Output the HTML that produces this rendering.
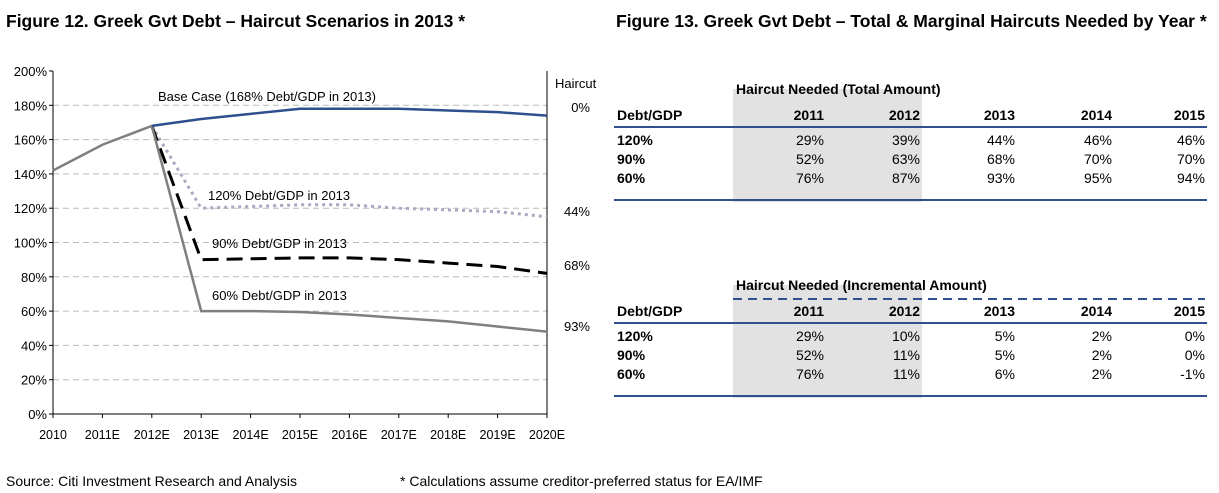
<!DOCTYPE html>
<html><head><meta charset="utf-8"><style>
html,body{margin:0;padding:0;background:#fff;width:1219px;height:493px;overflow:hidden}
svg{display:block;font-family:"Liberation Sans Narrow","Liberation Sans",Arial,sans-serif}
</style></head><body>
<svg id="svg" width="1219" height="493" viewBox="0 0 1219 493" xmlns="http://www.w3.org/2000/svg">
<text x="6" y="27" font-size="17.5" font-weight="bold">Figure 12. Greek Gvt Debt – Haircut Scenarios in 2013 *</text>
<text x="616" y="27" font-size="17.5" font-weight="bold">Figure 13. Greek Gvt Debt – Total &amp; Marginal Haircuts Needed by Year *</text>
<g id="chart"></g>
<g id="tables"></g>
<text x="6" y="486" font-size="14">Source: Citi Investment Research and Analysis</text>
<text x="400" y="486" font-size="14">* Calculations assume creditor-preferred status for EA/IMF</text>
</svg>
<script>
const categories=["2010","2011E","2012E","2013E","2014E","2015E","2016E","2017E","2018E","2019E","2020E"];
const baseCase=[142,157,168,172,175,178,178,178,177,176,174];
const s120=[null,null,168,120,121,122,122,120,119,118,115];
const s90=[null,null,168,90,90.5,91,91,90,88,86,82];
const s60=[null,null,168,60,60,59.5,58,56,54,51,48];
const yTicks=[0,20,40,60,80,100,120,140,160,180,200];
const haircutLabels=["0%","44%","68%","93%"];
const tableYears=["2011","2012","2013","2014","2015"];
const rowLabels=["120%","90%","60%"];
const totalVals=[["29%","39%","44%","46%","46%"],["52%","63%","68%","70%","70%"],["76%","87%","93%","95%","94%"]];
const incVals=[["29%","10%","5%","2%","0%"],["52%","11%","5%","2%","0%"],["76%","11%","6%","2%","-1%"]];

const NS="http://www.w3.org/2000/svg";
function mk(parent,tag,attrs,txt){const e=document.createElementNS(NS,tag);for(const k in attrs)e.setAttribute(k,attrs[k]);if(txt!==undefined)e.textContent=txt;parent.appendChild(e);return e;}
const X0=53,X1=547,Y0=414,Y1=71;
const xs=i=>X0+i*(X1-X0)/(categories.length-1);
const ys=v=>Y0-(v/200)*(Y0-Y1);
const chart=document.getElementById('chart');
yTicks.forEach(t=>{
  if(t>0&&t<200){const l=mk(chart,'line',{x1:X0,x2:X1,y1:ys(t),y2:ys(t),stroke:'#bbb','stroke-dasharray':'6,4','stroke-width':1});
  
  }
  const tx=mk(chart,'text',{x:X0-6,y:ys(t)+5,'text-anchor':'end','font-size':13},t+'%');
  
  
  mk(chart,'line',{x1:X0-4,x2:X0,y1:ys(t),y2:ys(t),stroke:'#000'});
});
const ax=mk(chart,'path',{d:`M${X0},${Y1}V${Y0}H${X1}V${Y1}`,fill:'none',stroke:'#000','stroke-width':1});


categories.forEach((c,i)=>{
  mk(chart,'line',{x1:xs(i),x2:xs(i),y1:Y0,y2:Y0+4,stroke:'#000'});
  const t=mk(chart,'text',{x:xs(i),y:Y0+25,'text-anchor':'middle','font-size':12.5},c);
  
  
});
function line(arr,style,name){
  const pts=[];arr.forEach((v,i)=>{if(v!==null)pts.push(xs(i)+','+ys(v));});
  const p=mk(chart,'polyline',Object.assign({points:pts.join(' '),fill:'none'},style));
  
  
}
line(s120,{stroke:'#a9a9c2','stroke-width':3,'stroke-dasharray':'3,4'},'series-120');
line(s90,{stroke:'#000','stroke-width':3,'stroke-dasharray':'16,8'},'series-90');
line(s60,{stroke:'#7f7f7f','stroke-width':2.5},'series-60');
line(baseCase.slice(0,3).concat(Array(8).fill(null)),{stroke:'#7f7f7f','stroke-width':2.5},'series-history');
line([null,null].concat(baseCase.slice(2)),{stroke:'#2f4f8f','stroke-width':2.5},'series-base-case');
[["Base Case (168% Debt/GDP in 2013)",158,101,'base-label'],["120% Debt/GDP in 2013",208,200,'label-120'],["90% Debt/GDP in 2013",212,248,'label-90'],["60% Debt/GDP in 2013",212,300,'label-60']].forEach(a=>{
  const t=mk(chart,'text',{x:a[1],y:a[2],'font-size':13},a[0]);
  
  
});
const hc=mk(chart,'text',{x:555,y:88,'font-size':13},'Haircut');


const hy=[112,216,270,331];
haircutLabels.forEach((h,i)=>{
  const t=mk(chart,'text',{x:590,y:hy[i],'text-anchor':'end','font-size':13},h);
  
  
});

const tables=document.getElementById('tables');
const colX=[824,920,1015,1112,1205];
function table(top,title,vals,dashed,nm){
  const g=mk(tables,'g',{});
  
  
  mk(g,'rect',{x:733,y:top-5,width:189,height:113,fill:'#e2e2e2'});
  const tt=mk(g,'text',{x:736,y:top,'font-size':14,'font-weight':'bold'},title);
  
  
  if(dashed)mk(g,'line',{x1:733,x2:1205,y1:top+9,y2:top+9,stroke:'#2f4f8f','stroke-width':2,'stroke-dasharray':'9,6'});
  mk(g,'text',{x:617,y:top+26,'font-size':14,'font-weight':'bold'},'Debt/GDP');
  tableYears.forEach((y,j)=>mk(g,'text',{x:colX[j],y:top+26,'text-anchor':'end','font-size':14,'font-weight':'bold'},y));
  mk(g,'line',{x1:614,x2:1207,y1:top+33,y2:top+33,stroke:'#2f4f8f','stroke-width':2});
  rowLabels.forEach((r,i)=>{
    const yy=top+51+i*19;
    mk(g,'text',{x:617,y:yy,'font-size':14,'font-weight':'bold'},r);
    vals[i].forEach((v,j)=>mk(g,'text',{x:colX[j],y:yy,'text-anchor':'end','font-size':14},v));
  });
  mk(g,'line',{x1:614,x2:1207,y1:top+106,y2:top+106,stroke:'#2f4f8f','stroke-width':2});
}
table(94,'Haircut Needed (Total Amount)',totalVals,false,'total-haircut-table');
table(290,'Haircut Needed (Incremental Amount)',incVals,true,'incremental-haircut-table');
</script>
</body></html>
